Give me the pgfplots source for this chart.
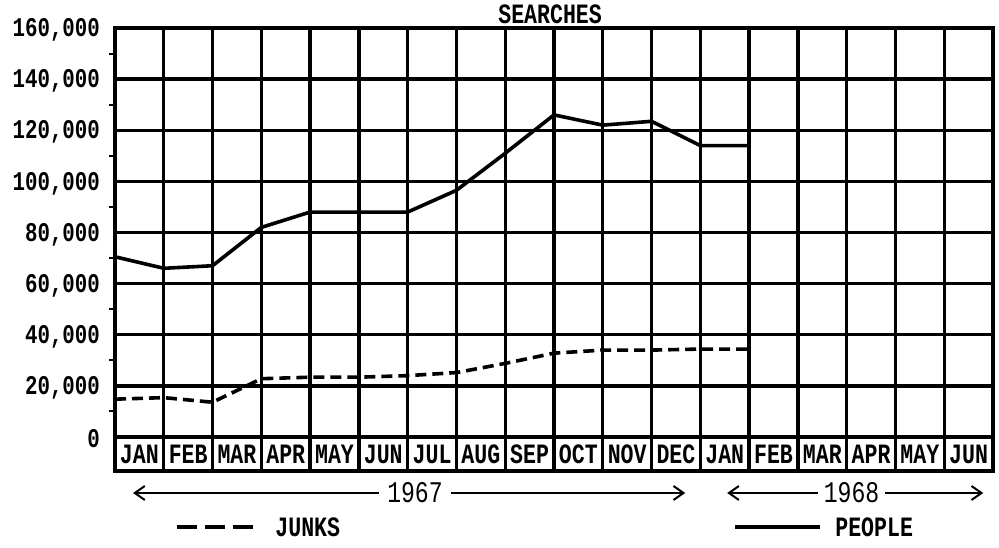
\documentclass[border=0pt]{standalone}
\usepackage{pgfplots}
\pgfplotsset{compat=1.18}
\usepackage{fontspec}
\setmainfont{Liberation Mono}
\newfontfamily\tw[FakeStretch=0.77]{Liberation Mono}
\usetikzlibrary{arrows.meta}

\pgfplotstableread{
x y
0 70500
1 66000
2 67000
3 82000
4 88000
5 88000
6 88000
7 96500
8 111000
9 126000
10 122000
11 123500
12 114000
13 114000
}\people

\pgfplotstableread{
x y
0 14800
1 15400
2 13600
3 22800
4 23400
5 23400
6 24000
7 25200
8 28800
9 32800
10 34000
11 34000
12 34400
13 34400
}\junks

\begin{document}
\begin{tikzpicture}
\path[use as bounding box] (-57.5pt,-38pt) rectangle (442pt,235.5pt);
\begin{axis}[
  scale only axis, width=439pt, height=221.5pt,
  at={(0pt,0pt)}, anchor=south west,
  xmin=0, xmax=18, ymin=-13300, ymax=160000,
  xtick={0,1,...,18}, xticklabels={},
  ytick={0,20000,40000,60000,80000,100000,120000,140000,160000},
  yticklabels={0,{20,000},{40,000},{60,000},{80,000},{100,000},{120,000},{140,000},{160,000}},
  minor ytick={10000,30000,50000,70000,90000,110000,130000,150000},
  ytick pos=left, xtick pos=bottom,
  major tick length=0pt, minor tick length=3pt, tick align=outside,
  minor tick style={line width=1pt, black},
  xmajorgrids, ymajorgrids,
  major grid style={black, line width=1.7pt},
  axis line style={line width=2pt},
  scaled y ticks=false,
  yticklabel style={font=\tw\bfseries\fontsize{13.5}{13.5}\selectfont, xshift=-4pt, yshift=-1pt},
  clip=false,
]
\addplot[black, line width=1.8pt, line join=round] table[x=x,y=y] {\people};
\addplot[black, line width=1.8pt, dash pattern=on 5.5pt off 3pt] table[x=x,y=y] {\junks};

\begin{scope}[every node/.style={font=\tw\bfseries\fontsize{14}{14}\selectfont, inner sep=0pt}]
\node at (axis cs:0.5,-6650) {JAN};
\node at (axis cs:1.5,-6650) {FEB};
\node at (axis cs:2.5,-6650) {MAR};
\node at (axis cs:3.5,-6650) {APR};
\node at (axis cs:4.5,-6650) {MAY};
\node at (axis cs:5.5,-6650) {JUN};
\node at (axis cs:6.5,-6650) {JUL};
\node at (axis cs:7.5,-6650) {AUG};
\node at (axis cs:8.5,-6650) {SEP};
\node at (axis cs:9.5,-6650) {OCT};
\node at (axis cs:10.5,-6650) {NOV};
\node at (axis cs:11.5,-6650) {DEC};
\node at (axis cs:12.5,-6650) {JAN};
\node at (axis cs:13.5,-6650) {FEB};
\node at (axis cs:14.5,-6650) {MAR};
\node at (axis cs:15.5,-6650) {APR};
\node at (axis cs:16.5,-6650) {MAY};
\node at (axis cs:17.5,-6650) {JUN};
\end{scope}

% title
\node[font=\tw\bfseries\fontsize{14}{14}\selectfont, anchor=base, inner sep=0pt, yshift=2pt] at (axis cs:8.92,160000) {SEARCHES};

% year arrows
\draw[line width=1pt, {Straight Barb[length=5pt,width=7pt]}-{Straight Barb[length=5pt,width=7pt]}] (axis cs:0.37,-21900) -- (axis cs:11.69,-21900);
\node[fill=white, inner sep=4pt, font=\tw\fontsize{15}{15}\selectfont] at (axis cs:6.15,-21900) {1967};
\draw[line width=1pt, {Straight Barb[length=5pt,width=7pt]}-{Straight Barb[length=5pt,width=7pt]}] (axis cs:12.55,-21900) -- (axis cs:17.8,-21900);
\node[fill=white, inner sep=3pt, font=\tw\fontsize{15}{15}\selectfont] at (axis cs:15.1,-21900) {1968};

% legend
\draw[line width=1.7pt, dash pattern=on 10pt off 4pt] (axis cs:1.27,-35200) -- (axis cs:2.93,-35200);
\node[anchor=west, inner sep=0pt, font=\tw\bfseries\fontsize{14}{14}\selectfont] at (axis cs:3.28,-35200) {JUNKS};
\draw[line width=1.7pt] (axis cs:12.71,-35200) -- (axis cs:14.45,-35200);
\node[anchor=west, inner sep=0pt, font=\tw\bfseries\fontsize{14}{14}\selectfont] at (axis cs:14.76,-35200) {PEOPLE};
\end{axis}
\end{tikzpicture}
\end{document}
